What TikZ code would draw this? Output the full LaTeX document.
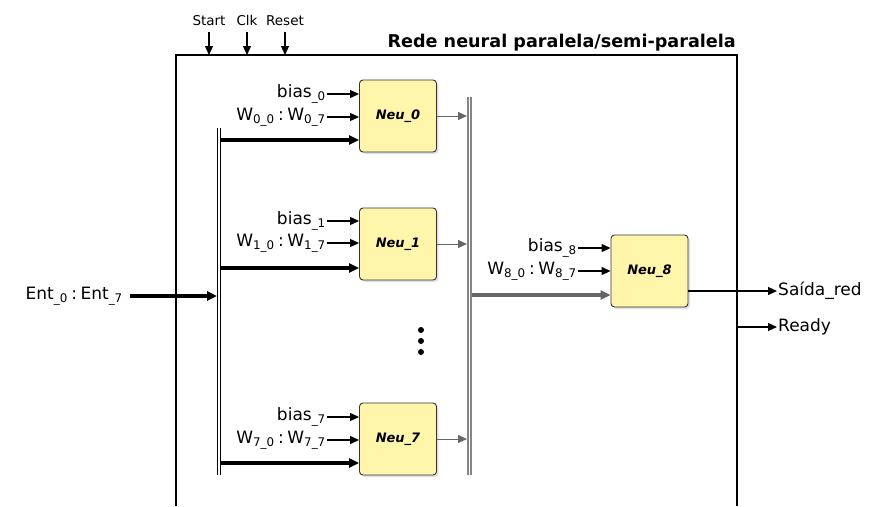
\documentclass[tikz,border=0pt]{standalone}
\usepackage{fontspec}
\setmainfont{DejaVu Sans}
\usetikzlibrary{arrows.meta,shadows,calc}
\definecolor{neufill}{HTML}{FFF5AB}
\definecolor{busgray}{HTML}{858585}
\definecolor{arrgray}{HTML}{666666}
\newcommand{\cln}{\hspace{3.5pt}:\hspace{3.5pt}}
\tikzset{
  neu/.style={draw=black!80, fill=neufill, rounded corners=3.5pt, minimum width=77pt,
    minimum height=72pt, line width=0.9pt, font=\fontsize{13}{15}\selectfont\bfseries\itshape,
    drop shadow={opacity=0.12, shadow xshift=2pt, shadow yshift=-2pt, fill=black}},
  lab/.style={anchor=east, inner sep=1pt, font=\fontsize{17}{19}\selectfont},
  rlab/.style={anchor=west, inner sep=1pt, font=\fontsize{17}{19}\selectfont},
  sig/.style={anchor=base, inner sep=1pt, font=\fontsize{13.5}{15}\selectfont},
  thinarr/.style={-{Triangle[length=9pt,width=8pt]}, line width=1.2pt},
  thickarr/.style={-{Triangle[length=10pt,width=9pt]}, line width=3.8pt},
  grayarr/.style={-{Triangle[length=9pt,width=8pt]}, line width=1pt, draw=arrgray, fill=arrgray},
  thickgray/.style={-{Triangle[length=10pt,width=9pt]}, line width=3.2pt, draw=arrgray, fill=arrgray},
  lbus/.style={draw=black, line width=1pt, double=white, double distance=2.4pt},
  rbus/.style={draw=busgray, line width=1.6pt, double=white, double distance=1.6pt},
}
\begin{document}
\begin{tikzpicture}[x=1pt,y=-1pt]
\useasboundingbox (0,0) rectangle (875,506);
% outer box (open at the bottom)
\coordinate (bl) at (176,506);
\coordinate (tl) at (176,55);
\coordinate (tr) at (737,55);
\coordinate (br) at (737,506);
\draw[line width=1.2pt] (bl) -- (tl) -- (tr) -- (br);
\node[anchor=base east, inner sep=0pt, font=\fontsize{17.6}{20}\selectfont\bfseries] (title) at (736,47) {Rede neural paralela/semi-paralela};
% control signals
\node[sig] (st) at (209,25) {Start};
\node[sig] (clk) at (247,25) {Clk};
\node[sig] (rst) at (285,25) {Reset};
\draw[thinarr] ($(st.base)+(0,7)$) -- (st.base |- tl);
\draw[thinarr] ($(clk.base)+(0,7)$) -- (clk.base |- tl);
\draw[thinarr] ($(rst.base)+(0,7)$) -- (rst.base |- tl);
% neurons
\node[neu] (n0) at (398,116) {Neu\_0};
\node[neu] (n1) at (398,244) {Neu\_1};
\node[neu] (n7) at (398,439) {Neu\_7};
\node[neu] (n8) at (649.5,271) {Neu\_8};
% left bus
\coordinate (lbt) at (219,128);
\coordinate (lbb) at (219,475);
\draw[lbus] (lbt) -- (lbb);
% right bus
\coordinate (rbt) at (469.5,97);
\coordinate (rbb) at (469.5,475);
\coordinate (rbl) at (467,0);
\draw[rbus] (rbt) -- (rbb);
% input to network
\node[lab] (ent) at (124,296) {Ent\textsubscript{\_0}\cln Ent\textsubscript{\_7}};
\coordinate (entend) at (217,296);
\draw[thickarr] ([xshift=6pt]ent.east) -- (entend);
% neuron 0
\node[lab] (b0) at (327,94) {bias\textsubscript{\_0}};
\node[lab] (w0) at (327,117) {W\textsubscript{0\_0}\cln W\textsubscript{0\_7}};
\draw[thinarr] (b0.east) -- (b0.east -| n0.west);
\draw[thinarr] (w0.east) -- (w0.east -| n0.west);
\coordinate (t0) at (221,140);
\draw[thickarr] (t0) -- (t0 -| n0.west);
\draw[grayarr] (n0.east) -- (n0.east -| rbl);
% neuron 1
\node[lab] (b1) at (327,221) {bias\textsubscript{\_1}};
\node[lab] (w1) at (327,243) {W\textsubscript{1\_0}\cln W\textsubscript{1\_7}};
\draw[thinarr] (b1.east) -- (b1.east -| n1.west);
\draw[thinarr] (w1.east) -- (w1.east -| n1.west);
\coordinate (t1) at (221,268);
\draw[thickarr] (t1) -- (t1 -| n1.west);
\draw[grayarr] (n1.east) -- (n1.east -| rbl);
% dots
\fill (421,330) circle[radius=3pt];
\fill (421,341) circle[radius=3pt];
\fill (421,352) circle[radius=3pt];
% neuron 7
\node[lab] (b7) at (327,417) {bias\textsubscript{\_7}};
\node[lab] (w7) at (327,440) {W\textsubscript{7\_0}\cln W\textsubscript{7\_7}};
\draw[thinarr] (b7.east) -- (b7.east -| n7.west);
\draw[thinarr] (w7.east) -- (w7.east -| n7.west);
\coordinate (t7) at (221,463);
\draw[thickarr] (t7) -- (t7 -| n7.west);
\draw[grayarr] (n7.east) -- (n7.east -| rbl);
% neuron 8
\node[lab] (b8) at (578,248) {bias\textsubscript{\_8}};
\node[lab] (w8) at (578,271) {W\textsubscript{8\_0}\cln W\textsubscript{8\_7}};
\draw[thinarr] (b8.east) -- (b8.east -| n8.west);
\draw[thinarr] (w8.east) -- (w8.east -| n8.west);
\coordinate (t8) at (472,295);
\draw[thickgray] (t8) -- (t8 -| n8.west);
% outputs
\coordinate (sd) at (777,291);
\node[rlab] (sdl) at (sd) {Saída\_red};
\draw[thinarr] (n8.east |- sd) -- (sd);
\coordinate (rd0) at (737,327);
\coordinate (rd) at (777,327);
\node[rlab] (rdl) at (rd) {Ready};
\draw[thinarr] (rd0) -- (rd);
\end{tikzpicture}
\end{document}
